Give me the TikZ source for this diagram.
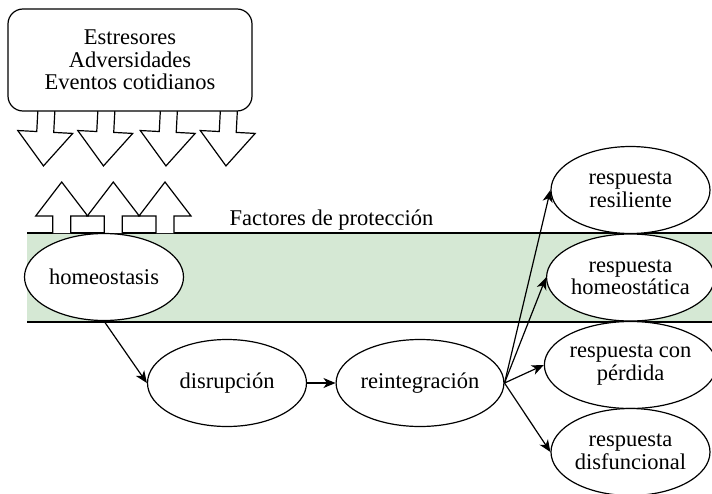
\documentclass[tikz,border=0pt]{standalone}
\usepackage{fontspec}
\setmainfont{Liberation Serif}
\usetikzlibrary{shapes.geometric,arrows.meta}
\definecolor{bandgreen}{HTML}{D5E8D4}

\begin{document}
\begin{tikzpicture}[x=1pt,y=-1pt,
  line width=1.2pt,
  every node/.style={font=\fontsize{22.5}{22.5}\selectfont},
  state/.style={ellipse,draw,fill=white,minimum width=159pt,minimum height=87pt,inner sep=0pt,align=center},
  flow/.style={-{Stealth[length=12pt,width=10pt,inset=3.5pt]}},
  blockarrow/.style={draw,fill=white,line join=miter}]
\fill[white] (0,0) rectangle (712,493);
\useasboundingbox (0,0) rectangle (712,493);

% protection band
\fill[bandgreen] (27,233) rectangle (712,322);
\draw (27,233) -- (712,233) (27,322) -- (712,322);

% stressor arrows pushing down
\foreach \cx in {46.5,106.5,169,229} {
  \draw[blockarrow,shift={(\cx,108)},rotate=-3]
    (-8.5,0) -- (-8.5,24) -- (-27.5,24) -- (0,58) -- (27.5,24) -- (8.5,24) -- (8.5,0);
}

% source of stress
\node[draw,rounded corners=15pt,fill=white,minimum width=244pt,minimum height=102pt,align=center]
  (src) at (130,60) {Estresores\\Adversidades\\Eventos cotidianos};

% protective arrows pushing up
\foreach \cx in {61.7,113.3,165} {
  \draw[blockarrow] (\cx-9,233) -- (\cx-9,216) -- (\cx-26,216) -- (\cx,182)
    -- (\cx+26,216) -- (\cx+9,216) -- (\cx+9,233);
}

\node[anchor=base] (prot) at (331.5,225) {Factores de protección};

% states
\node[state] (homeo) at (104,277) {homeostasis};
\node[state] (disr) at (227,383) {disrupción};
\node[state] (reint) at (420,383) {reintegración};
\node[state] (res) at (630.5,190) {respuesta\\resiliente};
\node[state] (hom) at (630.5,277.5) {respuesta\\homeostática};
\node[state] (perd) at (630.5,365) {respuesta con\\pérdida};
\node[state] (disf) at (630.5,452) {respuesta\\disfuncional};

% transitions
\draw[flow] (homeo.south) -- (disr.west);
\draw[flow] (disr) -- (reint);
\foreach \t in {res,hom,perd,disf}
  \draw[flow] (reint.east) -- (\t.west);
\end{tikzpicture}
\end{document}
